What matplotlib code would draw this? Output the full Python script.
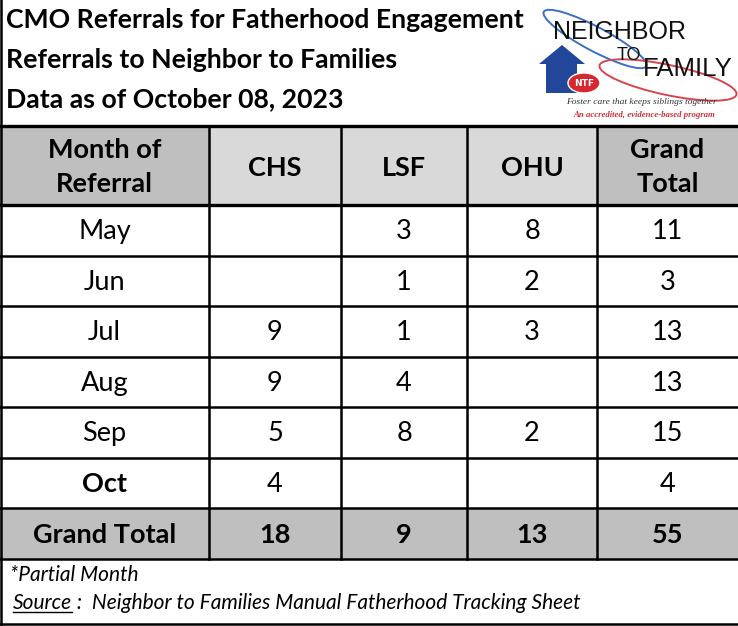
import matplotlib
matplotlib.use("Agg")
import matplotlib.pyplot as plt
from matplotlib.patches import Rectangle, Ellipse, Polygon

# ---------------- data ----------------
title_lines = ["CMO Referrals for Fatherhood Engagement",
               "Referrals to Neighbor to Families",
               "Data as of October 08, 2023"]
header_labels = ["Month of\nReferral", "CHS", "LSF", "OHU", "Grand\nTotal"]
months = ["May", "Jun", "Jul", "Aug", "Sep", "Oct"]
month_bold = [False, False, False, False, False, True]
chs = [None, None, 9, 9, 5, 4]
lsf = [3, 1, 1, 4, 8, None]
ohu = [8, 2, 3, None, 2, None]
grand_total = [11, 3, 13, 13, 15, 4]
total_label = "Grand Total"
total_values = [18, 9, 13, 55]
footnote = "*Partial Month"
source_label = "Source"
source_text = " :  Neighbor to Families Manual Fatherhood Tracking Sheet"

# ---------------- layout ----------------
W, H = 738, 626
col_edges = [0, 209, 341, 467, 597, 738]
header_top, header_bot = 126, 205
row_h = 50.5
FONT = "Lato"
LOGO_FONT = "Liberation Sans"

fig = plt.figure(figsize=(W / 100, H / 100), dpi=100)
ax = fig.add_axes([0, 0, 1, 1])
ax.set_xlim(0, W)
ax.set_ylim(H, 0)
ax.axis("off")

# title
for i, line in enumerate(title_lines):
    ax.text(6, 20 + i * 39.5, line, fontsize=19.2, fontweight="bold",
            family=FONT, va="center", ha="left", color="black")

# header cells
hdr_colors = ["#bfbfbf", "#d9d9d9", "#d9d9d9", "#d9d9d9", "#bfbfbf"]
for c in range(5):
    x0, x1 = col_edges[c], col_edges[c + 1]
    ax.add_patch(Rectangle((x0, header_top), x1 - x0, header_bot - header_top,
                           facecolor=hdr_colors[c], edgecolor="none"))
    ax.text((x0 + x1) / 2, (header_top + header_bot) / 2 + 2, header_labels[c],
            fontsize=19.5, fontweight="bold", family=FONT, ha="center",
            va="center", linespacing=1.5)

# body rows
def fmt(v):
    return "" if v is None else str(v)

for r, m in enumerate(months):
    y0 = header_bot + r * row_h
    yc = y0 + row_h / 2 + 1.5
    vals = [m, fmt(chs[r]), fmt(lsf[r]), fmt(ohu[r]), fmt(grand_total[r])]
    for c, v in enumerate(vals):
        x0, x1 = col_edges[c], col_edges[c + 1]
        fw = "bold" if (c == 0 and month_bold[r]) else "normal"
        ax.text((x0 + x1) / 2, yc, v, fontsize=19.5, fontweight=fw,
                family=FONT, ha="center", va="center")

# grand total row
gt_top = header_bot + len(months) * row_h
gt_bot = gt_top + row_h
ax.add_patch(Rectangle((0, gt_top), W, row_h, facecolor="#bfbfbf", edgecolor="none"))
gvals = [total_label] + [str(v) for v in total_values]
for c, v in enumerate(gvals):
    x0, x1 = col_edges[c], col_edges[c + 1]
    ax.text((x0 + x1) / 2, gt_top + row_h / 2 + 1.5, v, fontsize=19.5,
            fontweight="bold", family=FONT, ha="center", va="center")

# grid lines
ax.plot([0, W], [header_top, header_top], color="black", lw=2.4)
ax.plot([0, W], [header_bot, header_bot], color="black", lw=2.4)
for r in range(1, len(months) + 2):
    y = header_bot + r * row_h
    ax.plot([0, W], [y, y], color="black", lw=1.8)
for x in col_edges[1:-1]:
    ax.plot([x, x], [header_top, gt_bot], color="black", lw=1.8)
# outer frame
ax.plot([1, 1], [0, H], color="black", lw=1.8)
ax.plot([0, W], [H - 2, H - 2], color="black", lw=1.8)

# footer
ax.text(10, 575, footnote, fontsize=15, style="italic", family=FONT,
        ha="left", va="center")
src = ax.text(13, 603, source_label, fontsize=15, style="italic", family=FONT,
              ha="left", va="center")
fig.canvas.draw()
bb = src.get_window_extent()
inv = ax.transData.inverted()
(sx0, sy0), (sx1, sy1) = inv.transform([[bb.x0, bb.y0], [bb.x1, bb.y1]])
ax.plot([sx0, sx1], [sy0 - 1, sy0 - 1], color="black", lw=1.0)
ax.text(sx1, 603, source_text, fontsize=15, style="italic", family=FONT,
        ha="left", va="center")

# logo
ax.add_patch(Ellipse((595, 39), 116, 24, angle=28, facecolor="none",
                     edgecolor="#3a6fc4", lw=1.4))
ax.add_patch(Ellipse((668, 80), 140, 30, angle=12, facecolor="none",
                     edgecolor="#d9454f", lw=1.4))
ax.add_patch(Polygon([[562, 45], [585, 64], [577, 64], [577, 93], [546, 93],
                      [546, 64], [539, 64]], closed=True,
                     facecolor="#21469a", edgecolor="none"))
ax.add_patch(Ellipse((584, 83), 32, 20, facecolor="#d7282f", edgecolor="white", lw=1))
ax.text(584, 83.5, "NTF", fontsize=6.5, fontweight="bold", color="white",
        family="DejaVu Sans", ha="center", va="center")
ax.text(553, 32, "NEIGHBOR", fontsize=18, family=LOGO_FONT,
        color="#111111", ha="left", va="center")
ax.text(629, 55, "TO", fontsize=13, family=LOGO_FONT,
        color="#111111", ha="center", va="center")
ax.text(643, 69.5, "FAMILY", fontsize=18.5, family=LOGO_FONT,
        color="#111111", ha="left", va="center")
ax.text(641, 102, "Foster care that keeps siblings together", fontsize=6.8,
        style="italic", family="Liberation Serif", color="#333333",
        ha="center", va="center")
ax.text(644, 115, "An accredited, evidence-based program", fontsize=6.3,
        style="italic", fontweight="bold", family="Liberation Serif",
        color="#d0303a", ha="center", va="center")

fig.savefig("out.png", dpi=100)
